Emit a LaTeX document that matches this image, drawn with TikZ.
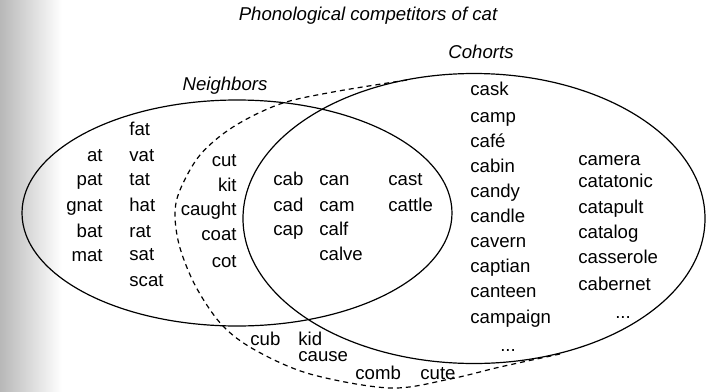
\documentclass[tikz,border=0pt]{standalone}
\usepackage{fontspec}
\setmainfont{Liberation Sans}
\begin{document}
\begin{tikzpicture}[x=0.5pt,y=-0.5pt,
  txt/.style={inner sep=0pt,font=\fontsize{9.3}{11}\selectfont},
  wl/.style={txt,anchor=base west},
  wr/.style={txt,anchor=base east},
  wc/.style={txt,anchor=base},
  lab/.style={txt,anchor=base,font=\fontsize{9.3}{11}\selectfont\itshape},
  ring/.style={line width=0.6pt},
  crowd/.style={line width=0.6pt,dash pattern=on 2.5pt off 2pt}]
\useasboundingbox (0,0) rectangle (706,391);
\shade[left color=black!28,right color=white] (0,0) rectangle (62,391);
% title and labels
\node[lab] (title) at (368,20) {Phonological competitors of cat};
\node[lab] (nb) at (225,90) {Neighbors};
\node[lab] (co) at (481,58) {Cohorts};
% sets
\draw[ring] (237,213) ellipse [x radius=107.5pt, y radius=56.5pt];
\draw[ring] (474,218.5) ellipse [x radius=115.5pt, y radius=72.5pt];
\draw[crowd] plot[smooth,tension=0.55] coordinates {(407,80) (333,92) (280,104) (233,127) (200,155) (180,190) (175,215) (180,248) (196,287) (222,325) (255,350) (310,374) (390,388) (450,379) (500,367) (560,354)};
% neighbors only
\foreach \w/\y in {at/156,pat/180,gnat/206,bat/232,mat/256}
  \node[wr] (n-\w) at (103,\y+5) {\w};
\foreach \w/\y in {fat/130,vat/156,tat/180,hat/206,rat/232,sat/255,scat/281}
  \node[wl] (n-\w) at (129,\y+5) {\w};
\foreach \w/\y in {cut/161,kit/186,caught/210,coat/235,cot/262}
  \node[wr] (n-\w) at (237,\y+5) {\w};
% intersection
\foreach \w/\y in {cab/180,cad/206,cap/230}
  \node[wl] (i-\w) at (273,\y+5) {\w};
\foreach \w/\y in {can/180,cam/206,calf/230,calve/255}
  \node[wl] (i-\w) at (319,\y+5) {\w};
\foreach \w/\y in {cast/180,cattle/206}
  \node[wl] (i-\w) at (388,\y+5) {\w};
% cohorts only
\foreach \w/\y in {cask/90,camp/117,cabin/167,candy/192,candle/217,cavern/242,captian/267,canteen/292,campaign/318}
  \node[wl] (c-\w) at (470,\y+5) {\w};
\node[wl] (c-cafe) at (470,147) {café};
\node[wc] (c-dots1) at (508,351) {...};
\foreach \w/\y in {camera/160,catatonic/182,catapult/208,catalog/233,casserole/258,cabernet/285}
  \node[wl] (c-\w) at (578,\y+5) {\w};
\node[wc] (c-dots2) at (623,318) {...};
% outside
\node[wl] (o-cub) at (250,345) {cub};
\node[wl] (o-kid) at (298,345) {kid};
\node[wl] (o-cause) at (298,361) {cause};
\node[wl] (o-comb) at (355,379) {comb};
\node[wl] (o-cute) at (420,379) {cute};
\end{tikzpicture}
\end{document}
